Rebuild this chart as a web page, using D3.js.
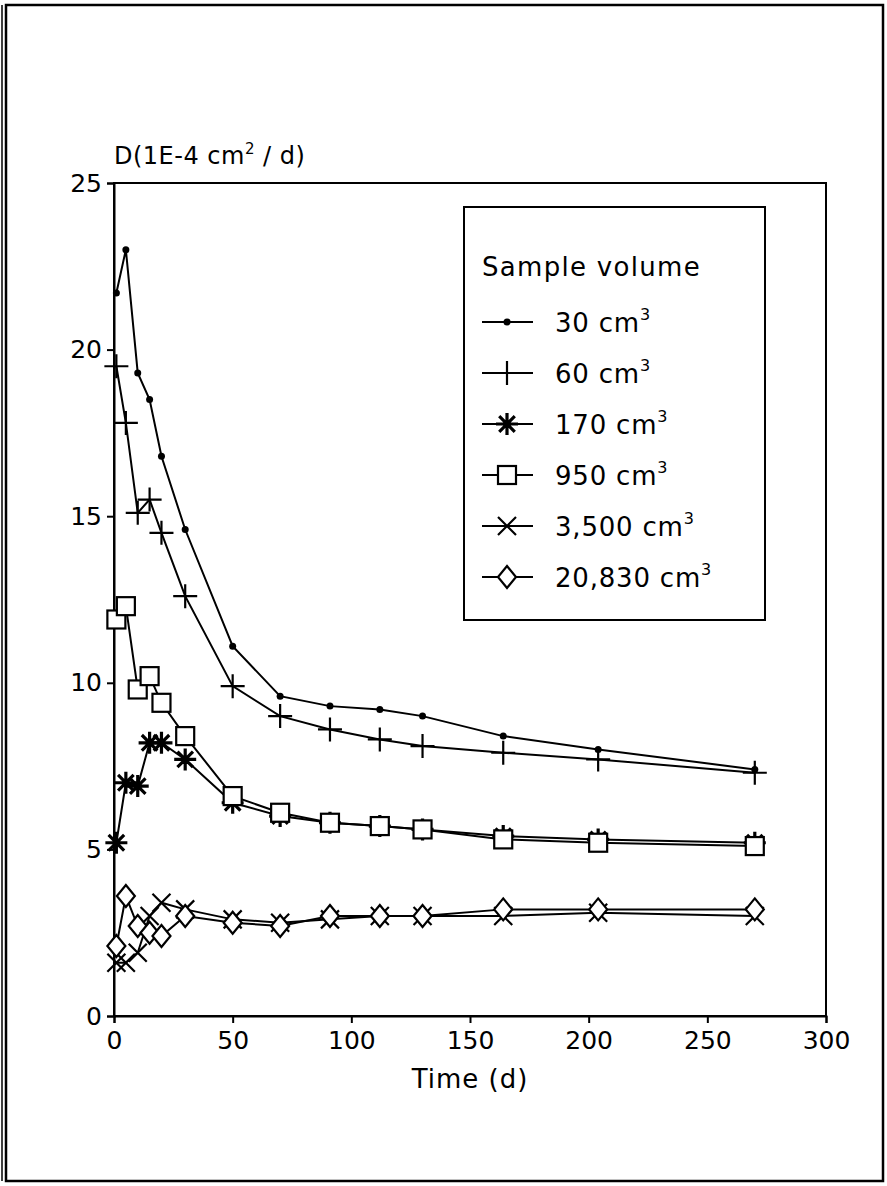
<!DOCTYPE html>
<html>
<head>
<meta charset="utf-8">
<script src="https://cdn.jsdelivr.net/npm/d3@7"></script>
<style>
  body { margin: 0; background: #fff; }
  svg text { font-family: "DejaVu Sans", sans-serif; fill: #000; }
</style>
</head>
<body>
<div id="chart"></div>
<script>
var width = 887,
    height = 1186;

// time (d)
var times = [1, 5, 10, 15, 20, 30, 50, 70, 91, 112, 130, 164, 204, 270];
// D (1E-4 cm2/d) for each sample volume
var v30    = [21.7, 23.0, 19.3, 18.5, 16.8, 14.6, 11.1, 9.6, 9.3, 9.2, 9.0, 8.4, 8.0, 7.4];
var v60    = [19.5, 17.8, 15.1, 15.5, 14.5, 12.6, 9.9, 9.0, 8.6, 8.3, 8.1, 7.9, 7.7, 7.3];
var v170   = [5.2, 7.0, 6.9, 8.2, 8.2, 7.7, 6.4, 6.0, 5.8, 5.7, 5.6, 5.4, 5.3, 5.2];
var v950   = [11.9, 12.3, 9.8, 10.2, 9.4, 8.4, 6.6, 6.1, 5.8, 5.7, 5.6, 5.3, 5.2, 5.1];
var v3500  = [1.6, 1.6, 1.9, 3.0, 3.4, 3.2, 2.9, 2.8, 2.9, 3.0, 3.0, 3.0, 3.1, 3.0];
var v20830 = [2.1, 3.6, 2.7, 2.5, 2.4, 3.0, 2.8, 2.7, 3.0, 3.0, 3.0, 3.2, 3.2, 3.2];

var labels  = ["30", "60", "170", "950", "3,500", "20,830"];
var markers = ["dot", "plus", "star", "square", "cross", "diamond"];
var xTicks = [0, 50, 100, 150, 200, 250, 300];
var yTicks = [0, 5, 10, 15, 20, 25];

var series = [v30, v60, v170, v950, v3500, v20830].map(function(vals, i) {
  return {
    label: labels[i],
    marker: markers[i],
    points: vals.map(function(v, j) { return {t: times[j], d: v}; })
  };
});

var svg = d3.select("#chart")
    .append("svg")
    .attr("width", width)
    .attr("height", height);

// outer frame of the scanned page
svg.append("rect")
    .attr("x", 6).attr("y", 5)
    .attr("width", 877).attr("height", 1176)
    .attr("fill", "none").attr("stroke", "#000").attr("stroke-width", 2.5);
svg.append("line")
    .attr("x1", 2).attr("x2", 2).attr("y1", 5).attr("y2", 1181)
    .attr("stroke", "#000").attr("stroke-width", 1.5);

var x = d3.scaleLinear().domain([0, 300]).range([114, 826]);
var y = d3.scaleLinear().domain([0, 25]).range([1016, 183]);

// plot box
svg.append("rect")
    .attr("x", x(0)).attr("y", y(25))
    .attr("width", x(300) - x(0)).attr("height", y(0) - y(25))
    .attr("fill", "none").attr("stroke", "#000").attr("stroke-width", 2);

var xAxis = svg.append("g")
    .attr("transform", "translate(0," + y(0) + ")")
    .call(d3.axisBottom(x).tickValues(xTicks).tickSize(7).tickPadding(8));
var yAxis = svg.append("g")
    .attr("transform", "translate(" + x(0) + ",0)")
    .call(d3.axisLeft(y).tickValues(yTicks).tickSize(7).tickPadding(5));

[xAxis, yAxis].forEach(function(a) {
  a.select(".domain").attr("stroke-width", 2);
  a.selectAll(".tick line").attr("stroke-width", 2);
  a.selectAll(".tick text").style("font-size", "25px");
});

// axis titles
var yt = svg.append("text").attr("x", 114).attr("y", 164)
    .style("font-size", "24px").style("letter-spacing", "0.5px");
yt.append("tspan").text("D(1E-4 cm");
yt.append("tspan").attr("dy", -10).style("font-size", "15px").text("2");
yt.append("tspan").attr("dy", 10).text(" / d)");

svg.append("text")
    .attr("x", (x(0) + x(300)) / 2).attr("y", 1088)
    .attr("text-anchor", "middle")
    .style("font-size", "26px").style("letter-spacing", "1px")
    .text("Time (d)");

function drawMarker(g, type, cx, cy) {
  if (type == "dot") {
    g.append("circle").attr("cx", cx).attr("cy", cy).attr("r", 3.5).attr("fill", "#000");
  } else if (type == "plus") {
    g.append("path").attr("d", "M" + (cx - 12) + "," + cy + "h24M" + cx + "," + (cy - 12) + "v24")
      .attr("stroke", "#000").attr("stroke-width", 2.2).attr("fill", "none");
  } else if (type == "star") {
    var s = 11, p = "";
    for (var k = 0; k < 4; k++) {
      var a = k * Math.PI / 4;
      p += "M" + (cx - s * Math.cos(a)) + "," + (cy - s * Math.sin(a)) +
           "L" + (cx + s * Math.cos(a)) + "," + (cy + s * Math.sin(a));
    }
    g.append("path").attr("d", p).attr("stroke", "#000").attr("stroke-width", 3.2).attr("fill", "none");
  } else if (type == "square") {
    g.append("rect").attr("x", cx - 9).attr("y", cy - 9).attr("width", 18).attr("height", 18)
      .attr("fill", "#fff").attr("stroke", "#000").attr("stroke-width", 2.2);
  } else if (type == "cross") {
    var c = 9;
    g.append("path").attr("d", "M" + (cx - c) + "," + (cy - c) + "L" + (cx + c) + "," + (cy + c) +
        "M" + (cx - c) + "," + (cy + c) + "L" + (cx + c) + "," + (cy - c))
      .attr("stroke", "#000").attr("stroke-width", 2.2).attr("fill", "none");
  } else if (type == "diamond") {
    g.append("path").attr("d", "M" + cx + "," + (cy - 11) + "L" + (cx + 9) + "," + cy +
        "L" + cx + "," + (cy + 11) + "L" + (cx - 9) + "," + cy + "Z")
      .attr("fill", "#fff").attr("stroke", "#000").attr("stroke-width", 2.2);
  }
}

var line = d3.line()
    .x(function(d) { return x(d.t); })
    .y(function(d) { return y(d.d); });

series.forEach(function(s) {
  svg.append("path")
      .datum(s.points)
      .attr("d", line)
      .attr("fill", "none")
      .attr("stroke", "#000")
      .attr("stroke-width", 2);
});
series.forEach(function(s) {
  var g = svg.append("g");
  s.points.forEach(function(p) {
    drawMarker(g, s.marker, x(p.t), y(p.d));
  });
});

// legend
var lg = svg.append("g");
lg.append("rect")
    .attr("x", 464).attr("y", 207)
    .attr("width", 301).attr("height", 413)
    .attr("fill", "#fff").attr("stroke", "#000").attr("stroke-width", 2);
lg.append("text").attr("x", 482).attr("y", 276)
    .style("font-size", "26px").style("letter-spacing", "1.3px").text("Sample volume");

series.forEach(function(s, i) {
  var ly = 322 + i * 51;
  lg.append("line").attr("x1", 482).attr("x2", 533).attr("y1", ly).attr("y2", ly)
    .attr("stroke", "#000").attr("stroke-width", 2);
  drawMarker(lg, s.marker, 507, ly);
  var t = lg.append("text").attr("x", 555).attr("y", ly + 10)
      .style("font-size", "26px").style("letter-spacing", "0.8px");
  t.append("tspan").text(s.label + " cm");
  t.append("tspan").attr("dy", -12).style("font-size", "16px").text("3");
});
</script>
</body>
</html>
